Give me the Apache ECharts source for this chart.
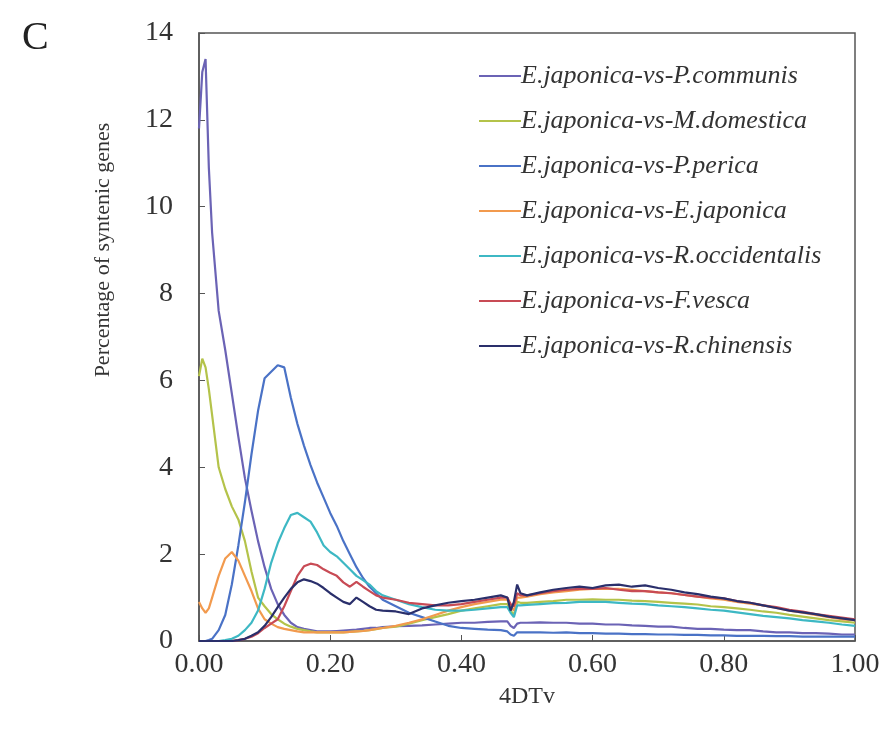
<!DOCTYPE html>
<html>
<head>
<meta charset="utf-8">
<script src="https://cdn.jsdelivr.net/npm/echarts@6/dist/echarts.min.js"></script>
<style>
  html, body { margin: 0; padding: 0; background: #fff; }
  #chart { width: 884px; height: 731px; }
</style>
</head>
<body>
<div id="chart"></div>
<script>
// 4DTv positions shared by every curve
var dtv = [0, 0.005, 0.01, 0.015, 0.02, 0.03, 0.04, 0.05, 0.06, 0.07,
  0.08, 0.09, 0.10, 0.11, 0.12, 0.13, 0.14, 0.15, 0.16, 0.17,
  0.18, 0.19, 0.20, 0.21, 0.22, 0.23, 0.24, 0.25, 0.26, 0.27,
  0.28, 0.30, 0.32, 0.34, 0.36, 0.38, 0.40, 0.42, 0.44, 0.46,
  0.47, 0.475, 0.48, 0.485, 0.49, 0.50, 0.52, 0.54, 0.56, 0.58,
  0.60, 0.62, 0.64, 0.66, 0.68, 0.70, 0.72, 0.74, 0.76, 0.78,
  0.80, 0.82, 0.84, 0.86, 0.88, 0.90, 0.92, 0.94, 0.96, 0.98, 1.00];

var names = ['E.japonica-vs-P.communis', 'E.japonica-vs-M.domestica', 'E.japonica-vs-P.perica',
  'E.japonica-vs-E.japonica', 'E.japonica-vs-R.occidentalis', 'E.japonica-vs-F.vesca',
  'E.japonica-vs-R.chinensis'];

var pCommunis = [11.8, 13.1, 13.4, 10.9, 9.4, 7.6, 6.7, 5.7, 4.7, 3.75,
  3.0, 2.3, 1.7, 1.2, 0.85, 0.6, 0.42, 0.32, 0.28, 0.25,
  0.22, 0.22, 0.22, 0.23, 0.24, 0.25, 0.26, 0.28, 0.3, 0.3,
  0.32, 0.34, 0.35, 0.36, 0.38, 0.4, 0.42, 0.42, 0.44, 0.45,
  0.45, 0.35, 0.3, 0.4, 0.42, 0.42, 0.43, 0.42, 0.42, 0.4,
  0.4, 0.38, 0.38, 0.36, 0.35, 0.33, 0.33, 0.3, 0.28, 0.28,
  0.26, 0.25, 0.25, 0.22, 0.2, 0.2, 0.18, 0.18, 0.17, 0.15, 0.15];

var mDomestica = [6.1, 6.5, 6.3, 5.8, 5.2, 4.0, 3.5, 3.1, 2.8, 2.3,
  1.6, 1.0, 0.8, 0.62, 0.5, 0.4, 0.33, 0.28, 0.25, 0.22,
  0.2, 0.2, 0.2, 0.2, 0.2, 0.21, 0.22, 0.23, 0.25, 0.27,
  0.3, 0.33, 0.4, 0.48, 0.55, 0.62, 0.7, 0.75, 0.8, 0.85,
  0.85, 0.7, 0.6, 0.9, 0.88, 0.88, 0.9, 0.92, 0.95, 0.95,
  0.96, 0.95, 0.95, 0.93, 0.92, 0.9, 0.88, 0.86, 0.84, 0.8,
  0.78, 0.75, 0.72, 0.68, 0.65, 0.6, 0.56, 0.52, 0.48, 0.45, 0.42];

var pPerica = [0, 0, 0, 0.02, 0.05, 0.25, 0.6, 1.3, 2.2, 3.2,
  4.3, 5.3, 6.05, 6.2, 6.35, 6.3, 5.6, 5.0, 4.5, 4.05,
  3.65, 3.3, 2.95, 2.65, 2.3, 2.0, 1.7, 1.45, 1.25, 1.1,
  0.95, 0.8, 0.65, 0.55, 0.45, 0.35, 0.3, 0.28, 0.26, 0.25,
  0.22, 0.15, 0.12, 0.2, 0.2, 0.2, 0.2, 0.19, 0.2, 0.18,
  0.18, 0.17, 0.17, 0.16, 0.16, 0.15, 0.15, 0.14, 0.14, 0.13,
  0.13, 0.12, 0.12, 0.12, 0.11, 0.11, 0.1, 0.1, 0.1, 0.1, 0.1];

var eJaponica = [0.9, 0.75, 0.65, 0.75, 1.0, 1.5, 1.9, 2.05, 1.85, 1.5,
  1.15, 0.75, 0.5, 0.4, 0.32, 0.28, 0.25, 0.22, 0.2, 0.2,
  0.2, 0.2, 0.2, 0.2, 0.2, 0.21, 0.22, 0.23, 0.25, 0.28,
  0.3, 0.35, 0.42, 0.5, 0.6, 0.7, 0.78, 0.85, 0.9, 0.95,
  0.95, 0.8, 0.7, 1.0, 1.0, 1.02, 1.08, 1.12, 1.15, 1.18,
  1.2, 1.2, 1.2, 1.18, 1.15, 1.12, 1.1, 1.06, 1.02, 0.98,
  0.95, 0.9, 0.86, 0.82, 0.76, 0.7, 0.65, 0.6, 0.55, 0.5, 0.48];

var rOccidentalis = [0, 0, 0, 0, 0, 0, 0.02, 0.05, 0.12, 0.25,
  0.42, 0.7, 1.2, 1.8, 2.25, 2.6, 2.9, 2.95, 2.85, 2.75,
  2.5, 2.2, 2.05, 1.95, 1.8, 1.65, 1.5, 1.4, 1.3, 1.15,
  1.05, 0.95, 0.85, 0.78, 0.72, 0.7, 0.7, 0.72, 0.75, 0.78,
  0.78, 0.65, 0.55, 0.82, 0.82, 0.83, 0.85, 0.87, 0.88, 0.9,
  0.9, 0.9, 0.88, 0.86, 0.85, 0.82, 0.8, 0.78, 0.75, 0.72,
  0.7, 0.66, 0.62, 0.58, 0.55, 0.52, 0.48, 0.45, 0.42, 0.38, 0.35];

var fVesca = [0, 0, 0, 0, 0, 0, 0, 0, 0.02, 0.05,
  0.1, 0.18, 0.3, 0.4, 0.5, 0.8, 1.15, 1.5, 1.72, 1.78,
  1.75, 1.65, 1.57, 1.5, 1.35, 1.25, 1.36, 1.25, 1.15, 1.05,
  1.0, 0.95, 0.88, 0.85, 0.82, 0.82, 0.85, 0.9, 0.95, 1.0,
  1.0, 0.85, 0.8, 1.1, 1.05, 1.05, 1.1, 1.15, 1.18, 1.2,
  1.2, 1.22, 1.18, 1.15, 1.15, 1.12, 1.1, 1.06, 1.02, 1.0,
  0.98, 0.92, 0.88, 0.82, 0.78, 0.72, 0.68, 0.62, 0.58, 0.54, 0.5];

var rChinensis = [0, 0, 0, 0, 0, 0, 0, 0, 0.02, 0.05,
  0.12, 0.2, 0.35, 0.55, 0.78, 1.0, 1.2, 1.35, 1.42, 1.38,
  1.32, 1.22, 1.1, 1.0, 0.9, 0.85, 1.0, 0.9, 0.8, 0.72,
  0.7, 0.68, 0.62, 0.75, 0.82, 0.88, 0.92, 0.95, 1.0, 1.05,
  1.0, 0.7, 0.9, 1.3, 1.1, 1.05, 1.12, 1.18, 1.22, 1.25,
  1.22, 1.28, 1.3, 1.25, 1.28, 1.22, 1.18, 1.12, 1.08, 1.02,
  0.98, 0.92, 0.88, 0.82, 0.76, 0.7, 0.66, 0.62, 0.56, 0.52, 0.48];

var values = [pCommunis, mDomestica, pPerica, eJaponica, rOccidentalis, fVesca, rChinensis];
var colors = ['#6b63b5', '#b4c34a', '#4a72c6', '#f29a4e', '#3db8c4', '#c84b55', '#2a2f6b'];

var serif = 'Liberation Serif';
var chart = echarts.init(document.getElementById('chart'));

chart.setOption({
  animation: false,
  backgroundColor: '#fff',
  color: colors,
  grid: {
    left: 199, right: 29, top: 33, bottom: 90,
    show: true, borderColor: '#555', borderWidth: 1.5
  },
  graphic: [
    { type: 'text', left: 22, top: 18, style: { text: 'C', font: '40px ' + serif, fill: '#222' } },
    {
      type: 'text', x: 103, y: 250, rotation: Math.PI / 2,
      style: {
        text: 'Percentage of syntenic genes', font: '22px ' + serif, fill: '#333',
        textAlign: 'center', textVerticalAlign: 'middle'
      }
    }
  ],
  legend: {
    orient: 'vertical',
    left: 474, top: 58,
    itemWidth: 42, itemHeight: 2, itemGap: 19,
    icon: 'rect',
    textStyle: { fontFamily: serif, fontStyle: 'italic', fontSize: 26, color: '#333', padding: [0, 0, 0, -5] },
    data: names
  },
  xAxis: {
    type: 'value', min: 0, max: 1, interval: 0.2,
    name: '4DTv', nameLocation: 'middle', nameGap: 44,
    nameTextStyle: { fontFamily: serif, fontSize: 24, color: '#333' },
    axisLine: { lineStyle: { color: '#555', width: 1.5 } },
    axisTick: { inside: true, length: 6, lineStyle: { color: '#555' } },
    splitLine: { show: false },
    axisLabel: {
      fontFamily: serif, fontSize: 28, color: '#333', margin: 10,
      formatter: function (v) { return v.toFixed(2); }
    }
  },
  yAxis: {
    type: 'value', min: 0, max: 14, interval: 2,
    axisLine: { show: true, lineStyle: { color: '#555', width: 1.5 } },
    axisTick: { show: true, inside: true, length: 6, lineStyle: { color: '#555' } },
    splitLine: { show: false },
    axisLabel: { fontFamily: serif, fontSize: 28, color: '#333', margin: 26 }
  },
  series: names.map(function (n, i) {
    return {
      name: n, type: 'line', showSymbol: false, symbol: 'none',
      lineStyle: { width: 2.2 },
      data: dtv.map(function (x, j) { return [x, values[i][j]]; })
    };
  })
});
</script>
</body>
</html>
